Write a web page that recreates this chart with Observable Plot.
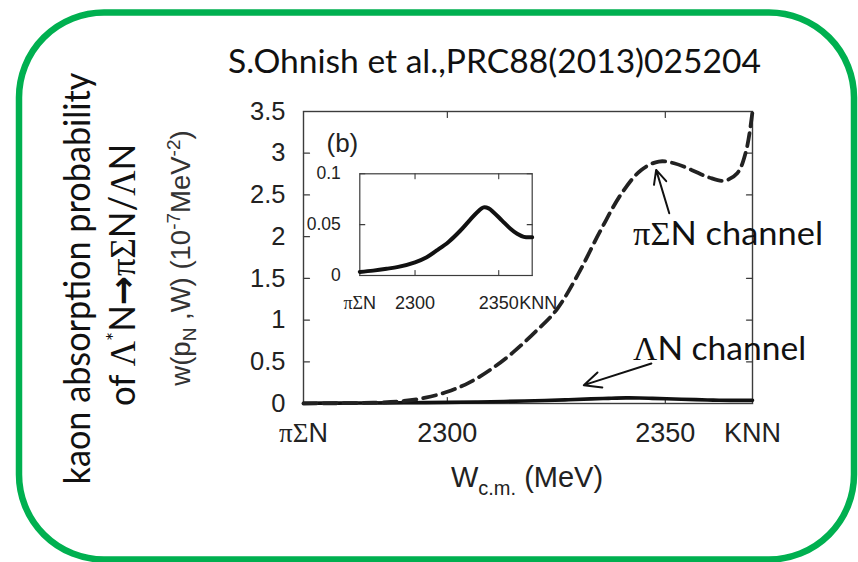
<!DOCTYPE html>
<html>
<head>
<meta charset="utf-8">
<script src="https://cdn.jsdelivr.net/npm/d3@7"></script>
<script src="https://cdn.jsdelivr.net/npm/@observablehq/plot@0.6"></script>
<style>
  html, body { margin: 0; padding: 0; background: #fff; }
  #page { position: relative; width: 858px; height: 562px; overflow: hidden; background: #fff; }
  #page > svg { position: absolute; left: 0; top: 0; }
</style>
</head>
<body>
<div id="page"></div>
<script>
// Energy range: πΣN threshold to KNN threshold (MeV)
const wMin = 2267;
const wMax = 2370;

// πΣN channel (dashed), w in 1e-7 MeV^-2
const piSigmaW    = [2267, 2275, 2283, 2290, 2295, 2300, 2305, 2310, 2315, 2320, 2325, 2330, 2335, 2340, 2344.5, 2348.5, 2352, 2356, 2360, 2363.5, 2366.5, 2368.5, 2370];
const piSigmaProb = [0.0, 0.003, 0.01, 0.03, 0.07, 0.14, 0.25, 0.41, 0.61, 0.85, 1.12, 1.55, 2.06, 2.52, 2.80, 2.90, 2.88, 2.80, 2.71, 2.67, 2.76, 3.02, 3.50];

// ΛN channel (solid), same units
const lambdaW    = [2267, 2275, 2283, 2290, 2300, 2307, 2313, 2320, 2327, 2333, 2337, 2341, 2344, 2347, 2352, 2357, 2361, 2365, 2370];
const lambdaProb = [0.0035, 0.0048, 0.0066, 0.0085, 0.013, 0.018, 0.0246, 0.033, 0.044, 0.055, 0.062, 0.067, 0.066, 0.062, 0.054, 0.046, 0.041, 0.038, 0.0376];

// Axis ticks and labels
const xTickValues = [2267, 2300, 2350, 2370];
const xTickLabels = ["πΣN", "2300", "2350", "KNN"];
const xMinorTicks = [2300, 2350];
const yTicksMain  = [0, 0.5, 1, 1.5, 2, 2.5, 3, 3.5];
const yTicksInset = [0, 0.05, 0.1];

// Channel annotations: label anchor and arrow (tail -> head) in data units
const annotLabels = ["πΣN channel", "ΛN channel"];
const annotTextW  = [2342.6, 2342.6];
const annotTextP  = [1.90, 0.52];
const annotTailW  = [2350.9, 2346.8];
const annotTailP  = [2.28, 0.48];
const annotHeadW  = [2347.9, 2331.3];
const annotHeadP  = [2.80, 0.22];

const piSigma = piSigmaW.map((w, i) => ({w, p: piSigmaProb[i]}));
const lambda  = lambdaW.map((w, i) => ({w, p: lambdaProb[i]}));
const xLabel  = new Map(xTickValues.map((v, i) => [v, xTickLabels[i]]));
const annotations = annotLabels.map((text, i) => ({
  text, tw: annotTextW[i], tp: annotTextP[i],
  w1: annotTailW[i], p1: annotTailP[i], w2: annotHeadW[i], p2: annotHeadP[i]
}));

const SVGNS = "http://www.w3.org/2000/svg";
const frameColor = "#3c3c3c";
const sans = "'Liberation Sans', Arial, Helvetica, sans-serif";
const slideFont = "Lato, 'Open Sans', sans-serif";
// set widths of the channel labels (px)
const annotWidths = new Map([["πΣN channel", 190], ["ΛN channel", 173]]);

// short inward tick drawn from the anchor point
const tickShape = { draw(context, l) { context.moveTo(0, 0); context.lineTo(0, -l); } };
const inwardTicks = (len, sw) => [
  Plot.vector(xMinorTicks, {x: d => d, frameAnchor: "bottom", rotate: 0, length: len, anchor: "start", shape: tickShape, stroke: frameColor, strokeWidth: sw}),
  Plot.vector(xMinorTicks, {x: d => d, frameAnchor: "top", rotate: 180, length: len, anchor: "start", shape: tickShape, stroke: frameColor, strokeWidth: sw})
];
const inwardYTicks = (ticks, len, sw) => [
  Plot.vector(ticks, {y: d => d, frameAnchor: "left", rotate: 90, length: len, anchor: "start", shape: tickShape, stroke: frameColor, strokeWidth: sw}),
  Plot.vector(ticks, {y: d => d, frameAnchor: "right", rotate: -90, length: len, anchor: "start", shape: tickShape, stroke: frameColor, strokeWidth: sw})
];

// Greek letters are set in a serif face, as in the typeset figure
function greekify(root) {
  root.querySelectorAll("text").forEach(t => {
    if (t.children.length) return;
    const s = t.textContent;
    if (!/[\u0370-\u03FF]/.test(s)) return;
    t.textContent = "";
    s.split(/([\u0370-\u03FF]+)/).forEach(part => {
      if (!part) return;
      const ts = document.createElementNS(SVGNS, "tspan");
      if (/[\u0370-\u03FF]/.test(part)) ts.setAttribute("font-family", "'Liberation Serif', 'Times New Roman', serif");
      ts.textContent = part;
      t.appendChild(ts);
    });
  });
}

const page = document.getElementById("page");

// Slide decoration: rounded green border, citation, side caption, axis titles
page.insertAdjacentHTML("beforeend", `
<svg width="858" height="562" xmlns="${SVGNS}">
  <rect x="19" y="12.5" width="835" height="547" rx="85" ry="85" fill="none" stroke="#00b050" stroke-width="6.5"/>
  <text x="228" y="73" font-family="${slideFont}" font-size="32" fill="#111"
        textLength="533" lengthAdjust="spacingAndGlyphs">S.Ohnish et al.,PRC88(2013)025204</text>
  <text transform="translate(90,278.5) rotate(-90)" text-anchor="middle" font-family="${slideFont}"
        font-size="36" fill="#111" textLength="412" lengthAdjust="spacingAndGlyphs">kaon absorption probability</text>
  <text transform="translate(135,275) rotate(-90)" text-anchor="middle" font-family="${slideFont}"
        font-size="36" fill="#111" textLength="262" lengthAdjust="spacingAndGlyphs">of <tspan font-family="'Liberation Serif', serif">Λ</tspan><tspan dy="-13" font-size="22">*</tspan><tspan dy="13">N</tspan><tspan font-family="'DejaVu Sans', sans-serif" font-weight="bold">→</tspan><tspan font-family="'Liberation Serif', serif">πΣ</tspan>N/<tspan font-family="'Liberation Serif', serif">Λ</tspan>N</text>
  <text transform="translate(190,258) rotate(-90)" text-anchor="middle" font-family="${sans}" font-size="27.5" fill="#333">w(p<tspan font-size="19" dy="6">N</tspan><tspan dy="-6"> ,W) (10</tspan><tspan font-size="19" dy="-10">-7</tspan><tspan dy="10">MeV</tspan><tspan font-size="19" dy="-10">-2</tspan><tspan dy="10">)</tspan></text>
  <text x="527" y="487" text-anchor="middle" font-family="${sans}" font-size="29" fill="#222">W<tspan font-size="20" dy="8">c.m.</tspan><tspan dy="-8"> (MeV)</tspan></text>
</svg>`);

// Main panel
const main = Plot.plot({
  width: 858,
  height: 562,
  marginLeft: 303,
  marginRight: 106,
  marginTop: 111,
  marginBottom: 159,
  style: {background: "transparent", fontFamily: sans, color: "#222", overflow: "visible"},
  x: {domain: [wMin, wMax]},
  y: {domain: [0, 3.5]},
  marks: [
    Plot.frame({stroke: frameColor, strokeWidth: 1.4}),
    ...inwardTicks(6, 1.2),
    ...inwardYTicks(yTicksMain, 6, 1.2),
    Plot.axisY(yTicksMain, {tickSize: 0, tickPadding: 18, tickFormat: d => String(d), fontSize: 25.5, label: null}),
    Plot.axisX(xTickValues, {tickSize: 0, tickPadding: 19, tickFormat: d => xLabel.get(d), fontSize: 27, label: null}),
    Plot.line(lambda, {x: "w", y: "p", stroke: "#111", strokeWidth: 3.6, curve: "catmull-rom"}),
    Plot.line(piSigma, {x: "w", y: "p", stroke: "#222", strokeWidth: 3.8, strokeDasharray: "13,7", curve: "catmull-rom"}),
    Plot.text(["(b)"], {frameAnchor: "top-left", dx: 23, dy: 22, textAnchor: "start", lineAnchor: "top", fontSize: 26, fill: "#222"}),
    Plot.arrow(annotations, {x1: "w1", y1: "p1", x2: "w2", y2: "p2", stroke: "#111", strokeWidth: 2, headLength: 14, headAngle: 50}),
    Plot.text(annotations, {x: "tw", y: "tp", text: "text", textAnchor: "start", lineAnchor: "bottom",
      fontFamily: slideFont, fontSize: 33, fill: "#111"})
  ]
});
greekify(main);
main.querySelectorAll("text").forEach(t => {
  const w = annotWidths.get(t.textContent);
  if (w) {
    t.setAttribute("textLength", w);
    t.setAttribute("lengthAdjust", "spacingAndGlyphs");
  }
});
page.appendChild(main);

// Inset: ΛN channel on its own scale
const inset = Plot.plot({
  width: 272,
  height: 180,
  marginLeft: 59.3,
  marginRight: 40.3,
  marginTop: 33.3,
  marginBottom: 45,
  style: {background: "transparent", fontFamily: sans, color: "#222", overflow: "visible"},
  x: {domain: [wMin, wMax]},
  y: {domain: [0, 0.1]},
  marks: [
    Plot.frame({stroke: frameColor, strokeWidth: 1.2}),
    ...inwardTicks(5, 1.1),
    ...inwardYTicks(yTicksInset, 5, 1.1),
    Plot.axisY(yTicksInset, {tickSize: 0, tickPadding: 19, tickFormat: d => String(d), fontSize: 17.5, label: null}),
    Plot.axisX(xTickValues.slice(0, 3), {tickSize: 0, tickPadding: 21, tickFormat: d => xLabel.get(d), fontSize: 18, label: null}),
    Plot.axisX(xTickValues.slice(3), {tickSize: 0, tickPadding: 21, tickFormat: d => xLabel.get(d), fontSize: 18, label: null, dx: 6}),
    Plot.line(lambda, {x: "w", y: "p", stroke: "#111", strokeWidth: 4, curve: "catmull-rom"})
  ]
});
greekify(inset);
inset.style.left = "300px";
inset.style.top = "140px";
page.appendChild(inset);
</script>
</body>
</html>
